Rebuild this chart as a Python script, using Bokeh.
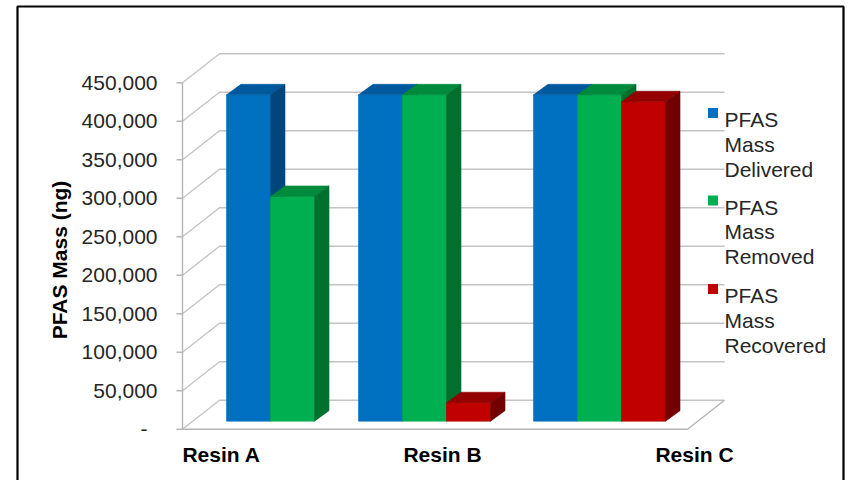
import math
from bokeh.plotting import figure
from bokeh.models import Range1d
from bokeh.core.properties import value
from bokeh.embed import file_html
from bokeh.resources import INLINE

# ---------------- data ----------------
categories = ["Resin A", "Resin B", "Resin C"]
series_names = ["PFAS Mass Delivered", "PFAS Mass Removed", "PFAS Mass Recovered"]
delivered = [424000, 424000, 424000]
removed = [292000, 424000, 424000]
recovered = [None, 24000, 415000]
y_ticks = [0, 50000, 100000, 150000, 200000, 250000, 300000, 350000, 400000, 450000]
y_tick_labels = ["-", "50,000", "100,000", "150,000", "200,000", "250,000",
                 "300,000", "350,000", "400,000", "450,000"]
y_title = "PFAS Mass (ng)"

# ---------------- layout / style ----------------
W, H = 848, 480
FRONT_COLORS = ["#0070C0", "#00B050", "#C00000"]
TOP_COLORS = ["#00599C", "#008A3C", "#930000"]
SIDE_COLORS = ["#00467D", "#00702F", "#730000"]
GRID = "#C4C4C4"
TXT = "#262626"
FONT = value("Liberation Sans")

ZERO_PY = 428.7          # pixel y of value 0 on the front plane
TOP_PY = 82.3            # pixel y of top tick on the front plane
K = (y_ticks[-1] - y_ticks[0]) / (ZERO_PY - TOP_PY)   # value units per pixel


def vy(py):
    """pixel y -> value units"""
    return (ZERO_PY - py) * K


AX_X = 182               # front vertical axis
FLOOR_RIGHT = 687
WALL_DX, WALL_DY = 37, 29 * K
BAR_BASE = 8 * K         # bars stand a bit behind the front edge
BAR_W = 44
BAR_DX, BAR_DY = 14.5, 10.5 * K
CLUSTER_LEFT = [226, 358, 533]
CAT_LABEL_X = [221, 442, 694]

p = figure(width=W, height=H, output_backend="svg", toolbar_location=None,
           x_range=Range1d(0, W), y_range=Range1d(vy(H), vy(0)),
           x_axis_type=None, y_axis_type=None, min_border=0)
p.outline_line_color = None
p.background_fill_color = "white"
p.border_fill_color = "white"
p.xgrid.visible = False
p.ygrid.visible = False

# ---- walls: back gridlines + left wall diagonals ----
back_x0 = AX_X + WALL_DX
back_x1 = FLOOR_RIGHT + WALL_DX
xs, ys = [], []
for t in y_ticks:
    xs.append([AX_X, back_x0, back_x1])
    ys.append([t, t + WALL_DY, t + WALL_DY])
p.multi_line(xs, ys, line_color=GRID, line_width=1.4)

# floor front + right edge
p.line([AX_X, FLOOR_RIGHT, back_x1], [0, 0, WALL_DY], line_color="#B5B5B5", line_width=1.4)

# front axis line + ticks
p.line([AX_X, AX_X], [0, y_ticks[-1]], line_color="#B5B5B5", line_width=1.4)
p.segment(x0=[AX_X - 6] * len(y_ticks), y0=y_ticks, x1=[AX_X] * len(y_ticks), y1=y_ticks,
          line_color="#B5B5B5", line_width=1.4)

# ---- bars (drawn bar by bar so that faces overlap correctly) ----
px, py_, pc = [], [], []
all_series = [delivered, removed, recovered]
for ci in range(len(categories)):
    for si, ser in enumerate(all_series):
        v = ser[ci]
        if v is None:
            continue
        x0 = CLUSTER_LEFT[ci] + si * BAR_W
        x1 = x0 + BAR_W
        b, t = BAR_BASE, BAR_BASE + v
        # front
        px.append([x0, x1, x1, x0]); py_.append([b, b, t, t]); pc.append(FRONT_COLORS[si])
        # top
        px.append([x0, x1, x1 + BAR_DX, x0 + BAR_DX]); py_.append([t, t, t + BAR_DY, t + BAR_DY]); pc.append(TOP_COLORS[si])
        # side
        px.append([x1, x1 + BAR_DX, x1 + BAR_DX, x1]); py_.append([b, b + BAR_DY, t + BAR_DY, t]); pc.append(SIDE_COLORS[si])
p.patches(xs=px, ys=py_, fill_color=pc, line_color=pc, line_width=0.6)

# ---- y tick labels ----
lab_x = [147 if s == "-" else 157 for s in y_tick_labels]
p.text(x=lab_x, y=y_ticks, text=y_tick_labels, text_font=FONT, text_font_size="21px",
       text_color=TXT, text_align="right", text_baseline="middle")

# ---- y title ----
p.text(x=[59], y=[vy(259.5)], text=[y_title], angle=math.pi / 2, text_font=FONT,
       text_font_size="21px", text_font_style="bold", text_color="black",
       text_align="center", text_baseline="middle")

# ---- category labels ----
p.text(x=CAT_LABEL_X, y=[vy(454.3)] * len(categories), text=categories, text_font=FONT,
       text_font_size="21px", text_font_style="bold", text_color="black",
       text_align="center", text_baseline="alphabetic")

# ---- legend ----
LEG_BASE = [119, 206.5, 295]
for si, name in enumerate(series_names):
    p.scatter(x=[712.5], y=[vy(LEG_BASE[si] - 6.5)], marker="square", size=10,
              fill_color=FRONT_COLORS[si], line_color=None)
    words = name.split(" ")
    p.text(x=[724] * len(words), y=[vy(LEG_BASE[si] + 24.8 * j) for j in range(len(words))],
           text=words, text_font=FONT, text_font_size="21px", text_color=TXT,
           text_align="left", text_baseline="alphabetic")

# ---- outer frame ----
p.line([17, 17, 843, 843], [vy(520), vy(6), vy(6), vy(520)], line_color="black", line_width=2.2)

open("out.html", "w").write(file_html(p, INLINE))
